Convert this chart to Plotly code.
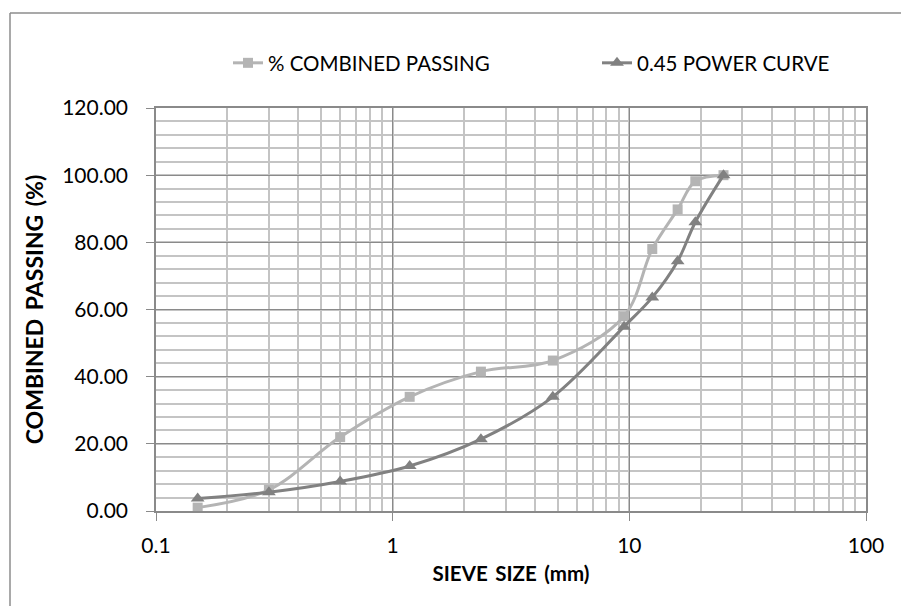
import plotly.graph_objects as go

sieve_sizes = [0.15, 0.3, 0.6, 1.18, 2.36, 4.75, 9.5, 12.5, 16, 19, 25]
combined_passing = [1.0, 6.3, 22.0, 34.0, 41.5, 44.8, 58.0, 78.0, 89.8, 98.2, 100.0]
power_curve = [3.7, 5.6, 8.8, 13.4, 21.4, 34.0, 54.9, 63.6, 74.4, 86.0, 100.0]

y_tickvals = [0, 20, 40, 60, 80, 100, 120]
x_tickvals = [0.1, 1, 10, 100]
x_ticktext = ["0.1", "1", "10", "100"]

LIGHT = "#b4b4b4"
DARK = "#818181"
FONT = "Lato, 'Open Sans', sans-serif"
SP = " \u2009"

fig = go.Figure()
fig.add_trace(go.Scatter(
    x=sieve_sizes, y=combined_passing, name="% COMBINED PASSING", showlegend=True,
    mode="lines+markers", line=dict(color=LIGHT, width=3, shape="spline", smoothing=1.0),
    marker=dict(symbol="square", size=10, color=LIGHT), legend="legend"))
fig.add_trace(go.Scatter(
    x=sieve_sizes, y=power_curve, name="0.45 POWER CURVE", showlegend=True,
    mode="lines+markers", line=dict(color=DARK, width=3, shape="spline", smoothing=1.0),
    marker=dict(symbol="triangle-up", size=12, color=DARK), legend="legend2"))

L, R, T, B = 156, 866, 108, 511
W, H = 901, 606
pw, ph = R - L, B - T

def px(x):
    return (x - L) / pw

def py(y):
    return (B - y) / ph

fig.update_layout(
    width=W, height=H,
    showlegend=True,
    margin=dict(l=L, r=W - R, t=T, b=H - B),
    paper_bgcolor="white", plot_bgcolor="white",
    font=dict(family=FONT, color="#000000", size=20),
    legend=dict(x=px(228), y=py(63), xanchor="left", yanchor="middle",
                font=dict(size=20.5), bgcolor="rgba(0,0,0,0)"),
    legend2=dict(x=px(597), y=py(63), xanchor="left", yanchor="middle",
                 font=dict(size=20.5), bgcolor="rgba(0,0,0,0)"),
    shapes=[
        dict(type="line", xref="paper", yref="paper", x0=px(10), x1=px(905), y0=py(13), y1=py(13),
             line=dict(color="#8c8c8c", width=1.5)),
        dict(type="line", xref="paper", yref="paper", x0=px(10), x1=px(10), y0=py(13), y1=py(610),
             line=dict(color="#8c8c8c", width=1.5)),
    ],
)

fig.update_xaxes(
    type="log", range=[-1, 2], tickvals=x_tickvals, ticktext=x_ticktext,
    showgrid=True, gridcolor="#8a8a8a", gridwidth=1,
    minor=dict(dtick="D1", showgrid=True, gridcolor="#c4c4c4", gridwidth=1.5, ticks=""),
    ticks="outside", ticklen=8, tickcolor="#8a8a8a", tickwidth=1,
    showline=True, linecolor="#8a8a8a", linewidth=1.5, mirror=True,
    tickfont=dict(size=21), ticklabelstandoff=7,
    title=dict(text="<b>SIEVE" + SP + "SIZE" + SP + "(mm)</b>", font=dict(size=20.5), standoff=11),
    zeroline=False,
)
fig.update_yaxes(
    range=[0, 120], tickvals=y_tickvals, tickformat=".2f",
    showgrid=True, gridcolor="#8a8a8a", gridwidth=1,
    minor=dict(dtick=4, showgrid=True, gridcolor="#c4c4c4", gridwidth=1.5, ticks=""),
    ticks="outside", ticklen=8, tickcolor="#8a8a8a", tickwidth=1,
    showline=True, linecolor="#8a8a8a", linewidth=1.5, mirror=True,
    tickfont=dict(size=21), ticklabelstandoff=14,
    title=dict(text="<b>COMBINED" + SP + "PASSING" + SP + "(%)</b>", font=dict(size=23), standoff=12),
    zeroline=False,
)

fig.write_html("out.html")
